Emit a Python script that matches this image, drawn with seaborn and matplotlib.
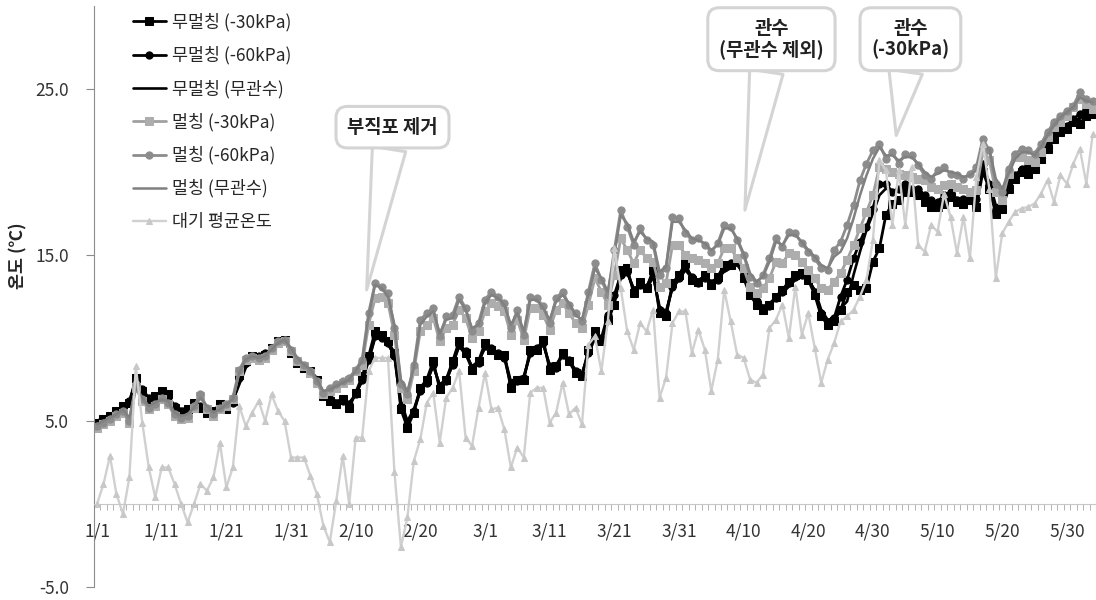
import numpy as np
import pandas as pd
import seaborn as sns
from matplotlib import pyplot as plt

# daily records 1/1 ~ 6/3 (2016, leap year)
dates = pd.date_range("2016-01-01", periods=155)
day = np.arange(len(dates))
tick_pos = day[::10]
tick_labels = [f"{d.month}/{d.day}" for d in dates[::10]]

# 무멀칭 (-30kPa)
b30 = [4.9, 5.1, 5.3, 5.6, 5.9, 6.1, 7.6, 6.8, 6.3, 6.5,
       6.8, 6.6, 5.8, 5.5, 5.7, 6.1, 5.8, 5.5, 5.6, 6.0,
       5.7, 6.2, 7.8, 8.6, 8.9, 8.8, 9.0, 9.4, 9.8, 9.9,
       9.1, 8.5, 8.2, 8.0, 7.5, 6.5, 6.2, 6.0, 6.3, 5.8,
       6.7, 7.7, 8.9, 10.4, 10.2, 9.8, 9.1, 5.7, 4.6, 5.5,
       7.0, 7.5, 8.6, 6.9, 7.5, 8.6, 9.8, 9.1, 8.1, 8.6,
       9.7, 9.3, 9.0, 9.0, 7.0, 7.5, 7.5, 9.3, 9.3, 9.9,
       8.1, 8.3, 9.1, 8.6, 7.9, 7.7, 9.3, 10.4, 9.8, 11.1,
       12.0, 14.1, 14.2, 12.7, 13.4, 13.0, 14.1, 11.5, 11.3, 13.3,
       13.8, 14.5, 13.5, 13.4, 13.8, 13.2, 13.7, 14.4, 14.4, 14.7,
       13.6, 12.6, 12.0, 11.7, 12.0, 12.5, 12.9, 13.4, 13.8, 13.9,
       13.5, 12.6, 11.3, 10.8, 11.0, 11.7, 12.8, 13.2, 12.9, 13.0,
       14.6, 15.4, 17.4, 18.1, 18.3, 18.8, 18.8, 18.6, 18.2, 17.9,
       17.9, 18.1, 18.5, 18.2, 18.1, 18.3, 17.9, 20.0, 19.0, 17.5,
       17.8, 19.0, 19.6, 20.0, 19.9, 20.2, 20.8, 21.4, 22.0, 22.4,
       22.6, 23.0, 22.9, 23.4, 23.5]
# 무멀칭 (-60kPa)
b60 = [4.8, 5.0, 5.3, 5.5, 5.8, 6.2, 7.4, 6.9, 6.4, 6.4,
       6.7, 6.5, 5.9, 5.6, 5.6, 6.0, 5.9, 5.6, 5.5, 5.9,
       5.8, 6.1, 7.6, 8.5, 8.8, 8.9, 9.1, 9.3, 9.7, 9.8,
       9.2, 8.6, 8.3, 7.9, 7.4, 6.6, 6.3, 6.1, 6.2, 6.0,
       6.6, 7.5, 8.7, 10.1, 10.0, 9.7, 8.9, 5.9, 4.8, 5.6,
       6.8, 7.3, 8.4, 7.1, 7.4, 8.4, 9.6, 9.2, 8.2, 8.5,
       9.5, 9.4, 9.1, 8.8, 7.2, 7.4, 7.6, 9.1, 9.4, 9.7,
       8.3, 8.2, 9.0, 8.7, 8.0, 7.8, 9.1, 10.2, 10.0, 11.4,
       12.6, 13.8, 14.0, 12.9, 13.2, 13.1, 13.9, 11.7, 11.5, 13.1,
       13.6, 14.3, 13.7, 13.3, 13.6, 13.3, 13.5, 14.2, 14.5, 14.6,
       13.8, 12.8, 12.2, 11.8, 11.9, 12.4, 12.8, 13.3, 13.7, 13.8,
       13.6, 12.8, 11.5, 10.9, 11.2, 12.5, 13.5, 14.8, 15.8, 16.7,
       17.8, 19.3, 19.3, 18.8, 19.0, 19.3, 19.0, 19.0, 18.6, 18.3,
       18.2, 18.6, 18.8, 18.3, 18.4, 18.5, 18.4, 20.5, 19.3, 17.8,
       18.3, 19.4, 19.8, 20.2, 20.4, 20.6, 21.1, 21.7, 22.2, 22.6,
       22.8, 23.2, 23.5, 23.8, 24.0]
# 무멀칭 (무관수)
bnone = [5.0, 5.2, 5.4, 5.6, 5.8, 6.0, 7.3, 6.7, 6.2, 6.4,
         6.6, 6.4, 5.9, 5.7, 5.8, 6.0, 5.8, 5.6, 5.7, 5.9,
         5.9, 6.2, 7.2, 8.2, 8.7, 8.8, 9.0, 9.3, 9.6, 9.8,
         9.2, 8.7, 8.3, 8.0, 7.6, 6.7, 6.4, 6.2, 6.3, 6.1,
         6.6, 7.4, 8.6, 10.0, 10.1, 9.6, 9.0, 6.2, 5.0, 5.7,
         6.9, 7.4, 8.3, 7.2, 7.5, 8.4, 9.5, 9.0, 8.3, 8.6,
         9.4, 9.2, 9.0, 8.9, 7.4, 7.6, 7.7, 9.0, 9.2, 9.6,
         8.4, 8.4, 8.9, 8.6, 8.1, 7.9, 9.0, 10.0, 9.9, 10.9,
         12.2, 13.6, 13.9, 13.0, 13.1, 12.9, 13.7, 11.9, 11.6, 13.0,
         13.5, 14.1, 13.6, 13.5, 13.7, 13.4, 13.6, 14.0, 14.2, 14.4,
         13.9, 13.0, 12.3, 11.9, 12.1, 12.4, 12.7, 13.1, 13.5, 13.7,
         13.5, 12.9, 11.7, 11.1, 11.2, 11.8, 12.2, 13.8, 15.2, 16.5,
         17.5, 18.6, 19.0, 18.9, 18.8, 19.1, 18.9, 18.8, 18.5, 18.1,
         18.0, 18.3, 18.7, 18.4, 18.2, 18.4, 18.2, 20.2, 19.4, 18.0,
         18.0, 19.1, 19.7, 20.1, 20.1, 20.4, 20.9, 21.5, 22.0, 22.5,
         22.7, 23.1, 23.2, 23.6, 23.7]
# 멀칭 (-30kPa)
g30 = [4.6, 4.8, 5.0, 5.3, 5.5, 4.9, 7.0, 6.2, 5.7, 5.9,
       6.3, 6.0, 5.3, 5.1, 5.2, 5.8, 6.5, 5.7, 5.3, 5.7,
       5.9, 6.3, 8.0, 8.7, 8.8, 8.7, 8.8, 9.3, 9.7, 9.8,
       9.2, 8.6, 8.3, 7.9, 7.3, 6.6, 6.8, 7.0, 7.3, 7.5,
       8.0, 8.4, 10.8, 12.4, 12.5, 12.1, 10.2, 7.0, 6.3, 8.0,
       10.4, 10.8, 11.2, 9.8, 10.6, 10.8, 11.7, 11.2, 10.0, 10.4,
       11.6, 12.1, 11.9, 11.6, 10.2, 11.1, 9.9, 11.8, 11.8, 11.4,
       10.5, 11.7, 12.1, 11.5, 10.9, 10.6, 12.0, 13.6, 12.8, 12.0,
       13.8, 16.0, 15.3, 14.5, 15.3, 14.8, 14.6, 13.1, 13.3, 15.6,
       15.6, 15.0, 14.8, 14.7, 14.5, 14.2, 14.5, 15.4, 15.4, 14.8,
       14.2, 13.1, 12.7, 13.0, 13.6, 14.6, 14.5, 15.1, 15.0, 14.6,
       14.1, 13.6, 13.0, 12.9, 13.4, 13.9, 14.7, 15.6, 16.6, 17.6,
       18.6, 20.3, 20.2, 20.0, 19.9, 19.8, 19.7, 19.6, 19.5, 19.1,
       19.0, 19.2, 19.3, 19.1, 19.0, 18.8, 18.9, 21.2, 20.7, 18.8,
       18.3, 19.9, 20.9, 20.9, 20.7, 20.6, 21.2, 22.1, 22.7, 23.0,
       23.4, 23.9, 24.4, 24.1, 23.8]
# 멀칭 (-60kPa)
g60 = [4.7, 4.9, 5.1, 5.4, 5.6, 5.0, 7.2, 6.3, 5.8, 6.0,
       6.4, 6.1, 5.4, 5.2, 5.3, 5.9, 6.6, 5.8, 5.4, 5.8,
       6.0, 6.4, 8.1, 8.8, 8.9, 8.8, 8.9, 9.4, 9.8, 9.9,
       9.3, 8.7, 8.4, 8.0, 7.4, 6.7, 7.0, 7.2, 7.4, 7.6,
       8.1, 8.7, 11.5, 13.3, 13.1, 12.7, 10.6, 7.2, 6.6, 8.4,
       11.1, 11.5, 11.8, 10.1, 11.3, 11.4, 12.5, 11.8, 10.4, 10.9,
       12.3, 12.8, 12.5, 12.1, 10.6, 11.7, 10.2, 12.5, 12.4, 11.9,
       10.9, 12.4, 12.8, 12.0, 11.5, 11.0, 12.8, 14.5, 13.5, 12.6,
       15.3, 17.7, 16.7, 15.6, 16.6, 15.9, 15.6, 13.8, 14.2, 17.3,
       17.2, 16.3, 15.9, 16.0, 15.6, 15.2, 15.7, 16.8, 16.7, 15.9,
       15.0, 13.7, 13.3, 13.8, 14.8, 16.0, 15.5, 16.4, 16.3, 15.7,
       15.2, 14.8, 14.2, 14.1, 15.3, 15.8, 16.8, 18.0, 19.5, 20.5,
       21.3, 21.7, 20.8, 21.2, 20.5, 21.1, 21.0, 20.4, 19.8, 19.6,
       20.1, 20.3, 19.9, 19.8, 19.6, 19.9, 20.3, 22.0, 21.3, 19.3,
       18.8, 20.2, 21.1, 21.4, 21.3, 21.1, 21.7, 22.4, 23.0, 23.4,
       23.7, 24.0, 24.8, 24.4, 24.3]
# 멀칭 (무관수)
gnone = [4.8, 5.0, 5.2, 5.4, 5.7, 5.2, 7.0, 6.4, 5.9, 6.1,
         6.3, 6.2, 5.5, 5.3, 5.4, 5.8, 6.4, 5.9, 5.5, 5.7,
         6.0, 6.3, 7.9, 8.7, 8.9, 8.8, 8.9, 9.3, 9.7, 9.9,
         9.4, 8.8, 8.4, 8.1, 7.5, 6.8, 6.9, 7.1, 7.3, 7.5,
         8.0, 8.6, 11.3, 13.2, 13.0, 12.5, 10.8, 7.5, 6.8, 8.2,
         10.8, 11.3, 11.6, 10.3, 11.1, 11.2, 12.3, 11.7, 10.6, 10.8,
         12.1, 12.6, 12.4, 12.0, 10.8, 11.5, 10.4, 12.3, 12.3, 11.8,
         11.1, 12.2, 12.6, 12.1, 11.4, 11.1, 12.6, 14.2, 13.6, 12.8,
         15.0, 17.4, 16.9, 15.8, 16.4, 16.0, 15.8, 14.0, 14.3, 17.0,
         17.0, 16.5, 16.0, 15.9, 15.7, 15.3, 15.6, 16.6, 16.6, 16.0,
         15.1, 13.9, 13.4, 13.7, 14.6, 15.8, 15.6, 16.2, 16.2, 15.8,
         15.3, 14.9, 14.4, 14.2, 14.9, 15.2, 16.0, 17.2, 18.6, 19.8,
         20.8, 21.5, 21.0, 21.0, 20.7, 20.9, 20.9, 20.5, 20.0, 19.7,
         19.9, 20.1, 20.0, 19.9, 19.7, 19.8, 20.1, 21.6, 21.4, 19.6,
         19.0, 19.9, 20.8, 21.2, 21.2, 21.0, 21.5, 22.2, 22.8, 23.3,
         23.6, 23.9, 24.5, 24.3, 24.2]
# 대기 평균온도
air = [0.0, 1.2, 2.9, 0.6, -0.6, 1.6, 8.3, 4.9, 2.2, 0.4,
       2.2, 2.2, 1.2, 0.0, -1.1, 0.0, 1.2, 0.8, 1.6, 3.7,
       1.0, 2.2, 5.9, 4.7, 5.5, 6.2, 5.0, 6.6, 5.6, 5.0,
       2.8, 2.8, 2.8, 1.7, 0.6, -1.3, -2.3, 0.2, 2.9, 0.0,
       4.0, 4.0, 8.0, 8.8, 8.8, 8.8, 1.9, -2.6, -0.8, 2.6,
       3.9, 6.1, 6.7, 3.7, 6.4, 7.0, 8.0, 4.0, 3.5, 5.8,
       7.9, 5.7, 5.8, 4.5, 2.2, 3.4, 2.8, 6.7, 7.0, 7.0,
       4.9, 5.5, 7.3, 5.4, 5.8, 4.8, 9.6, 10.1, 8.0, 11.0,
       15.4, 13.0, 10.4, 9.3, 10.9, 10.4, 11.7, 6.4, 7.6, 10.9,
       11.6, 11.6, 9.1, 10.5, 9.3, 6.8, 8.7, 12.9, 11.0, 9.0,
       8.8, 7.5, 7.3, 7.8, 10.6, 11.1, 12.0, 10.0, 13.1, 10.2,
       11.5, 9.4, 7.3, 8.7, 9.7, 11.0, 11.3, 11.7, 12.5, 13.5,
       15.9, 20.7, 20.1, 16.8, 20.1, 16.8, 20.3, 15.6, 15.2, 16.8,
       16.4, 18.7, 17.3, 15.1, 17.3, 14.8, 19.7, 21.7, 19.0, 13.6,
       16.3, 17.0, 17.6, 17.8, 17.9, 18.1, 18.7, 19.5, 18.2, 19.8,
       19.3, 20.5, 21.4, 19.3, 22.3]

series = [
    ("무멀칭 (-30kPa)", b30, "#000000", "s", "#000000", 5.6, 2.0),
    ("무멀칭 (-60kPa)", b60, "#000000", "o", "#000000", 5.2, 2.0),
    ("무멀칭 (무관수)", bnone, "#000000", None, None, 0, 1.9),
    ("멀칭 (-30kPa)", g30, "#a0a0a0", "s", "#adadad", 5.6, 2.0),
    ("멀칭 (-60kPa)", g60, "#8c8c8c", "o", "#8c8c8c", 5.2, 2.0),
    ("멀칭 (무관수)", gnone, "#808080", None, None, 0, 1.8),
    ("대기 평균온도", air, "#d0d0d0", "^", "#c8c8c8", 5.0, 1.7),
]

sns.set_style("white")
plt.rcParams["font.family"] = ["Noto Sans CJK KR", "DejaVu Sans"]

fig = plt.figure(figsize=(10.96, 6.0), dpi=100)
ax = fig.add_axes([93.8 / 1096, 13 / 600, 1002.2 / 1096, 581 / 600])

for name, vals, color, mk, mfc, ms, lw in series:
    kw = dict(marker=mk, markersize=ms, markerfacecolor=mfc, markeredgecolor=mfc) if mk else {}
    sns.lineplot(x=day, y=vals, ax=ax, color=color, linewidth=lw, label=name, **kw)

ax.set_xlim(-0.5, 154.5)
ax.set_ylim(-5, 30)

# axes styling
for side in ("top", "right"):
    ax.spines[side].set_visible(False)
ax.spines["bottom"].set_position(("data", 0))
ax.spines["bottom"].set_color("#c8c8c8")
ax.spines["left"].set_color("#8c8c8c")

ax.set_yticks([-5, 5, 15, 25])
ax.set_yticklabels(["-5.0", "5.0", "15.0", "25.0"])
ax.tick_params(axis="y", direction="out", length=6, color="#8c8c8c", pad=12,
               labelsize=12.5, labelcolor="#333333", left=True)

ax.set_xticks(tick_pos)
ax.set_xticklabels(tick_labels)
ax.set_xticks(np.arange(-0.5, 155, 1), minor=True)
ax.tick_params(axis="x", which="major", length=0, pad=13, labelsize=12.5,
               labelcolor="#333333")
ax.tick_params(axis="x", which="minor", direction="out", length=4,
               color="#a6a6a6", bottom=True)

ax.set_xlabel("")
ax.set_ylabel("온도 (℃)", fontsize=12.5, fontweight="bold")
ax.yaxis.set_label_coords(-0.066, 0.571)

ax.legend(loc="upper left", bbox_to_anchor=(0.039, 0.988), frameon=False,
          fontsize=12.5, borderaxespad=0, borderpad=0, labelspacing=0.85,
          handlelength=1.9, handletextpad=0.35)

# callouts
box = dict(boxstyle="round,pad=0.6,rounding_size=0.6", fc="white", ec="#d4d4d4", lw=2.2)
arrow = dict(arrowstyle="wedge,tail_width=1.8,shrink_factor=0.5", fc="white",
             ec="#d4d4d4", lw=2.2, shrinkA=0, shrinkB=0)
notes = [
    ("부직포 제거", (41.7, 12.9), (45.7, 22.7)),
    ("관수\n(무관수 제외)", (100.2, 17.7), (104.3, 28.0)),
    ("관수\n(-30kPa)", (123.6, 22.2), (125.8, 28.0)),
]
for text, tip, pos in notes:
    ax.annotate(text, xy=tip, xytext=pos, ha="center", va="center",
                fontsize=13.5, fontweight="bold", color="#222222", linespacing=1.1,
                bbox=box, arrowprops=arrow, zorder=10)

fig.savefig("out.png", dpi=100)
